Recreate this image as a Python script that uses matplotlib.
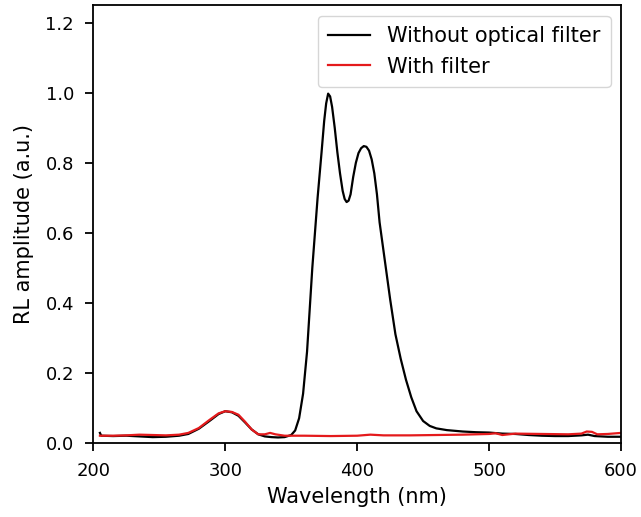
import numpy as np
import matplotlib
matplotlib.use("Agg")
import matplotlib.pyplot as plt

# spectrum without optical filter (wavelength nm, amplitude a.u.)
wl_nofilter = [205, 206, 215, 225, 235, 245, 255, 265, 272, 280, 288, 295,
               300, 305, 310, 315, 320, 325, 330, 335, 340, 345, 350, 353,
               356, 359, 362, 366, 370, 373, 375, 376.5, 378, 379.5, 381, 383,
               385, 387, 389, 390.5, 392, 393.5, 395, 397, 399, 401, 403, 405,
               407, 409, 411, 413, 415, 417, 421, 425, 429, 433, 437, 441,
               445, 450, 455, 460, 468, 480, 490, 500, 510, 520, 530, 540,
               550, 560, 570, 575, 580, 590, 600]
amp_nofilter = [0.028, 0.020, 0.019, 0.020, 0.018, 0.016, 0.017, 0.020, 0.025, 0.040, 0.062, 0.082,
                0.090, 0.087, 0.077, 0.058, 0.038, 0.024, 0.018, 0.016, 0.015, 0.016, 0.022, 0.035,
                0.070, 0.14, 0.26, 0.50, 0.70, 0.83, 0.92, 0.97, 0.998, 0.99, 0.96, 0.90,
                0.83, 0.77, 0.72, 0.697, 0.688, 0.692, 0.71, 0.76, 0.80, 0.828, 0.842, 0.848,
                0.846, 0.835, 0.81, 0.77, 0.71, 0.63, 0.52, 0.41, 0.31, 0.24, 0.18, 0.13,
                0.09, 0.062, 0.048, 0.041, 0.036, 0.032, 0.030, 0.029, 0.026, 0.025, 0.022, 0.020,
                0.019, 0.019, 0.021, 0.023, 0.019, 0.017, 0.017]

# spectrum with filter
wl_filter = [205, 215, 225, 235, 245, 255, 265, 272, 280, 288, 295, 300,
             305, 310, 315, 320, 325, 330, 334, 338, 345, 360, 380, 400,
             410, 420, 440, 460, 480, 500, 505, 510, 520, 540, 560, 570,
             574, 578, 582, 590, 600]
amp_filter = [0.020, 0.020, 0.021, 0.023, 0.022, 0.021, 0.023, 0.028, 0.042, 0.065, 0.084, 0.090,
              0.088, 0.080, 0.060, 0.038, 0.024, 0.024, 0.028, 0.024, 0.020, 0.020, 0.019, 0.020,
              0.023, 0.021, 0.021, 0.022, 0.023, 0.025, 0.027, 0.022, 0.026, 0.025, 0.024, 0.026,
              0.032, 0.031, 0.024, 0.025, 0.028]

fig = plt.figure(figsize=(6.41, 5.17), dpi=100)
ax = fig.add_axes([0.1456, 0.1437, 0.8232, 0.8457])

ax.plot(wl_nofilter, amp_nofilter, color="black", lw=1.6, label="Without optical filter")
ax.plot(wl_filter, amp_filter, color="#e41a1c", lw=1.6, label="With filter")

ax.set_xlim(200, 600)
ax.set_ylim(0, 1.25)
ax.set_xticks([200, 300, 400, 500, 600])
ax.set_yticks(np.arange(0, 1.21, 0.2))
ax.tick_params(labelsize=13, width=1.3, length=6, pad=8)
for s in ax.spines.values():
    s.set_linewidth(1.3)
ax.set_xlabel("Wavelength (nm)", fontsize=15, labelpad=5)
ax.set_ylabel("RL amplitude (a.u.)", fontsize=15, labelpad=8)
ax.legend(loc="upper right", fontsize=15, borderpad=0.5, labelspacing=0.5)

fig.savefig("out.png", dpi=100)
